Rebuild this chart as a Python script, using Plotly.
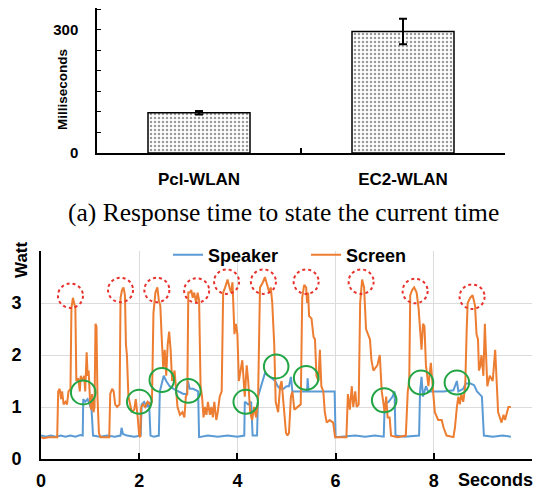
import plotly.graph_objects as go

# ---------------- data: top bar chart ----------------
categories = ["Pcl-WLAN", "EC2-WLAN"]
response_ms = [98, 296]
response_err = [4, 31]
caption = "(a) Response time to state the current time"

# ---------------- data: bottom power trace ----------------
screen_x = [0.00, 0.05, 0.15, 0.25, 0.33, 0.35, 0.38, 0.41, 0.43, 0.46, 0.50, 0.53, 0.56, 0.60,
            0.62, 0.65, 0.68, 0.70, 0.72, 0.76, 0.79, 0.81, 0.85, 0.88, 0.90, 0.93, 0.95, 0.97,
            1.00, 1.02, 1.04, 1.07, 1.09, 1.11, 1.13, 1.15, 1.18, 1.21, 1.30, 1.39, 1.41, 1.45,
            1.48, 1.51, 1.55, 1.60, 1.62, 1.65, 1.68, 1.71, 1.73, 1.75, 1.78, 1.82, 1.85, 1.90,
            1.93, 1.97, 2.00, 2.02, 2.04, 2.08, 2.12, 2.17, 2.22, 2.26, 2.29, 2.33, 2.37, 2.40,
            2.43, 2.46, 2.49, 2.52, 2.55, 2.58, 2.61, 2.64, 2.67, 2.72, 2.75, 2.78, 2.83, 2.88,
            2.92, 2.95, 2.98, 3.00, 3.03, 3.06, 3.09, 3.12, 3.16, 3.19, 3.22, 3.25, 3.28, 3.31,
            3.34, 3.37, 3.40, 3.44, 3.47, 3.50, 3.53, 3.57, 3.60, 3.64, 3.68, 3.71, 3.75, 3.80,
            3.84, 3.87, 3.90, 3.94, 3.97, 4.00, 4.03, 4.07, 4.10, 4.15, 4.19, 4.22, 4.26, 4.30,
            4.34, 4.38, 4.42, 4.46, 4.52, 4.56, 4.60, 4.65, 4.68, 4.71, 4.75, 4.78, 4.83, 4.87,
            4.90, 4.95, 4.99, 5.02, 5.05, 5.09, 5.12, 5.16, 5.23, 5.29, 5.32, 5.36, 5.40, 5.42,
            5.44, 5.46, 5.51, 5.55, 5.58, 5.61, 5.65, 5.68, 5.71, 5.75, 5.78, 5.82, 5.88, 5.95,
            5.99, 6.10, 6.22, 6.25, 6.29, 6.33, 6.36, 6.40, 6.43, 6.47, 6.50, 6.54, 6.58, 6.62,
            6.66, 6.70, 6.73, 6.77, 6.85, 6.90, 6.94, 7.00, 7.03, 7.06, 7.10, 7.13, 7.26, 7.43,
            7.47, 7.50, 7.52, 7.56, 7.60, 7.65, 7.69, 7.72, 7.75, 7.78, 7.81, 7.84, 7.89, 7.94,
            7.98, 8.02, 8.09, 8.16, 8.20, 8.26, 8.40, 8.43, 8.47, 8.50, 8.53, 8.56, 8.60, 8.64,
            8.67, 8.69, 8.74, 8.79, 8.84, 8.87, 8.90, 8.92, 8.95, 8.97, 9.01, 9.04, 9.06, 9.09,
            9.14, 9.20, 9.25, 9.28, 9.31, 9.38, 9.42, 9.45, 9.48, 9.52, 9.57]
screen_y = [0.42, 0.40, 0.42, 0.42, 0.42, 1.30, 1.35, 1.15, 1.30, 1.05, 1.10, 1.05, 1.30, 1.35,
            2.90, 3.10, 2.95, 2.90, 1.50, 1.55, 1.30, 1.60, 1.50, 1.60, 1.30, 2.05, 1.60, 1.70,
            1.10, 0.95, 1.25, 0.90, 1.00, 2.60, 2.55, 1.20, 0.50, 0.42, 0.42, 0.42, 1.25, 1.35,
            1.30, 1.05, 1.00, 1.05, 3.10, 3.25, 3.30, 3.15, 2.20, 2.00, 1.20, 1.00, 0.90, 0.95,
            1.15, 0.80, 0.45, 0.42, 1.00, 1.05, 1.00, 1.10, 1.05, 1.10, 2.80, 3.20, 3.30, 3.05,
            2.95, 2.30, 1.75, 2.10, 1.60, 2.20, 2.45, 2.10, 1.50, 1.70, 1.25, 1.00, 0.85, 0.90,
            0.80, 1.20, 1.25, 3.20, 3.20, 3.25, 3.10, 3.20, 3.00, 3.20, 3.05, 1.40, 1.20, 0.80,
            1.00, 0.85, 1.10, 0.85, 1.00, 0.80, 1.10, 0.75, 0.90, 1.20, 1.30, 3.20, 3.30, 3.45,
            3.30, 3.20, 3.40, 2.40, 2.60, 2.40, 1.50, 1.70, 1.90, 1.20, 1.80, 1.50, 0.90, 0.75,
            1.00, 0.80, 1.10, 3.30, 3.40, 3.50, 3.35, 3.20, 3.30, 3.00, 2.20, 1.10, 0.90, 1.40,
            1.50, 1.00, 0.50, 0.45, 0.50, 1.20, 1.30, 0.95, 1.00, 1.05, 3.10, 3.35, 3.30, 3.00,
            3.20, 2.75, 2.70, 2.35, 2.30, 1.60, 1.50, 2.10, 1.40, 1.30, 0.90, 0.70, 0.75, 0.70,
            0.42, 0.42, 0.42, 1.25, 0.95, 1.40, 1.00, 1.30, 1.00, 1.05, 3.00, 3.45, 3.30, 2.50,
            2.40, 2.30, 1.90, 1.70, 1.80, 2.00, 1.30, 0.90, 1.20, 0.80, 0.80, 0.45, 0.42, 0.45,
            1.30, 1.50, 3.15, 3.25, 3.30, 3.20, 2.90, 2.50, 2.10, 2.60, 2.55, 1.80, 1.40, 1.85,
            1.40, 0.90, 0.75, 0.75, 0.60, 0.45, 0.42, 0.60, 1.00, 1.20, 1.05, 1.25, 1.10, 1.40,
            2.50, 3.00, 3.10, 3.15, 2.95, 2.40, 2.30, 1.70, 1.80, 2.00, 1.60, 2.60, 2.10, 1.40,
            1.60, 1.50, 2.10, 1.30, 0.90, 0.70, 0.85, 0.75, 0.85, 1.00, 1.00]

speaker_x = [0.00, 0.10, 0.20, 0.30, 0.40, 0.50, 0.60, 0.70, 0.80, 0.85, 0.86, 0.90, 0.95, 1.00,
             1.03, 1.06, 1.20, 1.35, 1.50, 1.62, 1.64, 1.67, 1.75, 1.90, 2.03, 2.05, 2.10, 2.16,
             2.20, 2.23, 2.30, 2.40, 2.42, 2.46, 2.50, 2.55, 2.62, 2.70, 2.80, 2.90, 2.97, 2.99,
             3.03, 3.10, 3.20, 3.22, 3.40, 3.60, 3.80, 4.00, 4.14, 4.15, 4.22, 4.28, 4.31, 4.40,
             4.42, 4.48, 4.52, 4.56, 4.63, 4.70, 4.77, 4.82, 4.87, 4.94, 5.00, 5.05, 5.09, 5.12,
             5.20, 5.30, 5.42, 5.43, 5.45, 5.60, 5.80, 5.98, 6.00, 6.20, 6.40, 6.60, 6.80, 6.98,
             7.00, 7.08, 7.16, 7.20, 7.22, 7.40, 7.70, 7.72, 7.75, 7.78, 7.84, 7.88, 8.00, 8.20,
             8.40, 8.47, 8.50, 8.60, 8.65, 8.75, 8.82, 8.88, 8.98, 9.02, 9.20, 9.40, 9.57]
speaker_y = [0.45, 0.43, 0.45, 0.43, 0.45, 0.43, 0.45, 0.43, 0.46, 0.45, 1.15, 1.10, 1.15, 1.00,
             0.95, 0.45, 0.43, 0.45, 0.43, 0.45, 0.60, 0.48, 0.45, 0.43, 0.45, 1.05, 1.10, 1.00,
             1.10, 0.45, 0.43, 0.45, 1.30, 1.45, 1.60, 1.50, 1.40, 1.35, 1.30, 1.25, 1.25, 1.50,
             1.35, 1.35, 1.30, 0.42, 0.45, 0.43, 0.45, 0.43, 0.45, 1.10, 1.05, 1.10, 0.45, 0.45,
             1.20, 1.40, 1.50, 1.65, 1.60, 1.55, 1.50, 1.40, 1.35, 1.35, 1.40, 1.40, 1.58, 1.30,
             1.30, 1.30, 1.30, 1.55, 1.30, 1.30, 1.30, 1.30, 0.42, 0.43, 0.45, 0.43, 0.45, 0.43,
             1.05, 1.10, 1.20, 1.30, 0.45, 0.43, 0.45, 1.30, 1.58, 1.20, 1.40, 1.30, 1.30, 1.30,
             1.32, 1.50, 1.30, 1.35, 1.45, 1.45, 1.42, 1.30, 1.20, 0.45, 0.43, 0.45, 0.43]

# highlighted points (circle centres)
screen_peak_x = [0.60, 1.62, 2.36, 3.17, 3.78, 4.53, 5.40, 6.52, 7.62, 8.78]
screen_peak_y = [3.14, 3.25, 3.25, 3.24, 3.41, 3.41, 3.41, 3.41, 3.23, 3.12]
speaker_mark_x = [0.86, 2.00, 2.46, 3.00, 4.17, 4.79, 5.40, 6.99, 7.74, 8.47]
speaker_mark_y = [1.28, 1.10, 1.52, 1.31, 1.10, 1.78, 1.56, 1.13, 1.47, 1.47]

x_ticks = [0, 2, 4, 6, 8]
y_ticks = [0, 1, 2, 3, 4]
y_ticktext = ["0", "1", "2", "3", ""]

# ---------------- figure ----------------
W, H = 536, 491
SANS = "Liberation Sans, Arial, sans-serif"
BLUE = "#5b9bd5"
ORANGE = "#ed7d31"

fig = go.Figure()

fig.add_trace(go.Bar(
    x=categories, y=response_ms, width=0.5,
    marker=dict(color="white", line=dict(color="black", width=1.5),
                pattern=dict(shape=".", fgcolor="#333333", bgcolor="white", size=4, solidity=0.3)),
    error_y=dict(type="data", array=response_err, color="black", thickness=2, width=4),
    xaxis="x", yaxis="y", showlegend=False,
))

fig.add_trace(go.Scatter(x=speaker_x, y=speaker_y, mode="lines", name="Speaker",
                         line=dict(color=BLUE, width=2), xaxis="x2", yaxis="y2"))
fig.add_trace(go.Scatter(x=screen_x, y=screen_y, mode="lines", name="Screen",
                         line=dict(color=ORANGE, width=2), xaxis="x2", yaxis="y2"))

shapes = []
rx_r, ry_r = 0.255, 0.235
for cx, cy in zip(screen_peak_x, screen_peak_y):
    shapes.append(dict(type="circle", xref="x2", yref="y2", x0=cx - rx_r, x1=cx + rx_r,
                       y0=cy - ry_r, y1=cy + ry_r, line=dict(color="#e8312b", width=2, dash="dot"),
                       layer="above"))
rx_g, ry_g = 0.25, 0.23
for cx, cy in zip(speaker_mark_x, speaker_mark_y):
    shapes.append(dict(type="circle", xref="x2", yref="y2", x0=cx - rx_g, x1=cx + rx_g,
                       y0=cy - ry_g, y1=cy + ry_g, line=dict(color="#22a544", width=2),
                       layer="above"))

def py(p):
    return 1 - p / H

def label(text, x, y, size, angle=0, family=SANS, bold=True):
    return dict(text=text, xref="paper", yref="paper", x=x / W, y=py(y), showarrow=False,
                xanchor="center", yanchor="middle", textangle=angle,
                font=dict(family=family, size=size, weight="bold" if bold else "normal"))

fig.update_layout(
    width=W, height=H, autosize=False,
    margin=dict(l=0, r=0, t=0, b=0),
    paper_bgcolor="white", plot_bgcolor="white",
    font=dict(family=SANS, color="black"),
    xaxis=dict(domain=[97 / W, 505 / W], anchor="y", type="category", range=[-0.5, 1.5],
               tickson="boundaries", ticks="inside", ticklen=5, tickwidth=1.5, tickcolor="black",
               showline=True, linecolor="black", linewidth=1.5, showgrid=False, automargin=False,
               tickfont=dict(size=17, weight="bold"), ticklabelstandoff=10),
    yaxis=dict(domain=[py(153), py(8)], anchor="x", range=[0, 353], automargin=False,
               tickvals=[0, 300], ticks="inside", ticklen=4, tickwidth=1, tickcolor="black",
               minor=dict(dtick=50, ticks="inside", ticklen=4, tickwidth=1, tickcolor="black", showgrid=False),
               showline=True, linecolor="black", linewidth=1.5, showgrid=False, zeroline=False,
               tickfont=dict(size=15, weight="bold"), ticklabelstandoff=14),
    xaxis2=dict(domain=[41 / W, 532 / W], anchor="y2", range=[0, 10], automargin=False,
                tickvals=x_ticks, ticks="inside", ticklen=6, tickwidth=1.5, tickcolor="black",
                minor=dict(tickvals=[10], ticks="inside", ticklen=6, tickwidth=1.5, tickcolor="black", showgrid=False),
                showline=True, linecolor="black", linewidth=2, showgrid=True, gridcolor="#dcdcdc",
                gridwidth=1, zeroline=False,
                tickfont=dict(size=18, weight="bold"), ticklabelstandoff=4),
    yaxis2=dict(domain=[py(459), py(251)], anchor="x2", range=[0, 4], automargin=False,
                tickvals=y_ticks, ticktext=y_ticktext, ticks="",
                showline=True, linecolor="black", linewidth=2, showgrid=True, gridcolor="#dcdcdc",
                gridwidth=1, zeroline=False,
                tickfont=dict(size=18, weight="bold"), ticklabelstandoff=14),
    legend=dict(orientation="h", x=168 / W, xanchor="left", y=py(255), yanchor="middle",
                bgcolor="rgba(0,0,0,0)", font=dict(size=18, weight="bold", family=SANS),
                itemwidth=30, tracegroupgap=0, entrywidth=93, entrywidthmode="pixels"),
    shapes=shapes,
    annotations=[
        label("Milliseconds", 62, 90, 13.5, angle=-90),
        label(caption, 283, 212, 25.5, family="Liberation Serif, Times New Roman, serif", bold=False),
        label("Watt", 21, 260, 17, angle=-90),
        label("Seconds", 495, 480, 18),
    ],
)

fig.write_html("out.html", config={"displayModeBar": False},
               post_script="document.body.style.margin='0';document.body.style.padding='0';")
